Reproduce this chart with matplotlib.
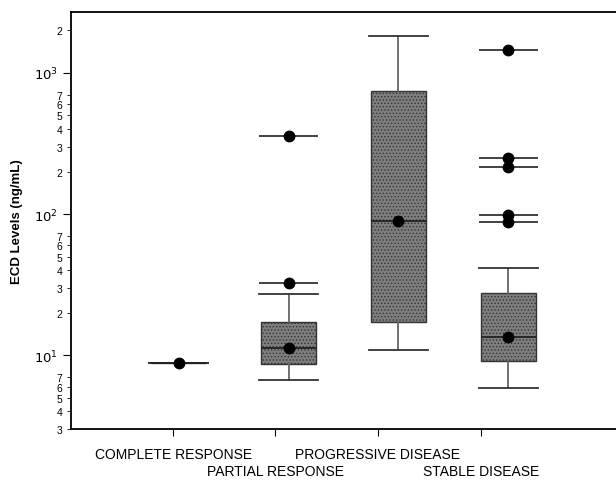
import numpy as np
import matplotlib.pyplot as plt
from matplotlib.ticker import FixedLocator, FixedFormatter

plt.rcParams['font.family'] = ['Liberation Sans', 'DejaVu Sans']
plt.rcParams['hatch.color'] = '#3c3c3c'
plt.rcParams['hatch.linewidth'] = 0.6

# values (ng/mL)
groups = ["COMPLETE RESPONSE", "PARTIAL RESPONSE", "PROGRESSIVE DISEASE", "STABLE DISEASE"]
whislo = [8.8, 6.7, 10.8, 5.9]
q1 = [8.8, 8.6, 17.3, 9.1]
med = [8.8, 11.2, 89.0, 13.4]
q3 = [8.8, 17.3, 750, 27.8]
whishi = [8.8, 27.0, 1820, 41.7]
outliers = [[], [32.7, 355], [], [88, 98, 214, 248, 1450]]

positions = [1, 2, 3, 4]
# the category ticks sit a little left of the boxes in the original
tick_pos = [0.95, 1.88, 2.81, 3.75]

fig = plt.figure(figsize=(6.16, 4.81), dpi=100)
ax = fig.add_axes([0.1153, 0.106, 0.8847, 0.867])

stats = []
for i, g in enumerate(groups):
    stats.append(dict(label=g, whislo=whislo[i], q1=q1[i], med=med[i],
                      q3=q3[i], whishi=whishi[i], fliers=[]))

bp = ax.bxp(stats, positions=positions, widths=0.5, patch_artist=True,
            showfliers=False, capwidths=0.54,
            boxprops=dict(facecolor='#7e7e7e', edgecolor='#333333', linewidth=1.0, hatch='.....'),
            whiskerprops=dict(color='#666666', linewidth=1.3),
            capprops=dict(color='#333333', linewidth=1.3),
            medianprops=dict(color='#222222', linewidth=1.3))

# median dots
ax.plot(positions, med, 'o', color='black', markersize=7.5, zorder=5)

# outliers drawn as short lines with a dot
for p, vals in zip(positions, outliers):
    if vals:
        ax.hlines(vals, p - 0.27, p + 0.27, color='#333333', linewidth=1.3, zorder=4)
        ax.plot([p] * len(vals), vals, 'o', color='black', markersize=7.5, zorder=5)

ax.set_yscale('log')
ax.set_ylim(3, 2700)
ax.set_xlim(0.02, 4.98)

ax.yaxis.set_major_locator(FixedLocator([10, 100, 1000]))
ax.yaxis.set_major_formatter(FixedFormatter([r'$10^1$', r'$10^2$', r'$10^3$']))
minor = []
minor_lab = []
for d in [1, 10, 100, 1000]:
    for m in range(2, 8):
        v = m * d
        if 3 <= v <= 2700:
            minor.append(v)
            minor_lab.append(str(m))
ax.yaxis.set_minor_locator(FixedLocator(minor))
ax.yaxis.set_minor_formatter(FixedFormatter(minor_lab))
ax.tick_params(axis='y', which='major', labelsize=9.5, length=6, direction='out')
ax.tick_params(axis='y', which='minor', labelsize=7.5, length=3, direction='out')

# category labels in two staggered rows
ax.set_xticks(tick_pos)
ax.set_xticklabels([])
ax.tick_params(axis='x', length=5)
row_y = [-0.06, -0.10, -0.06, -0.10]
for x, g, yy in zip(tick_pos, groups, row_y):
    ax.text(x, yy, g, transform=ax.get_xaxis_transform(), ha='center', va='center',
            fontsize=10)

ax.set_ylabel('ECD Levels (ng/mL)', fontsize=9.5, fontweight='bold', labelpad=8)
ax.spines['right'].set_visible(False)
for s in ['left', 'bottom', 'top']:
    ax.spines[s].set_linewidth(1.3)

fig.savefig('out.png', dpi=100)
